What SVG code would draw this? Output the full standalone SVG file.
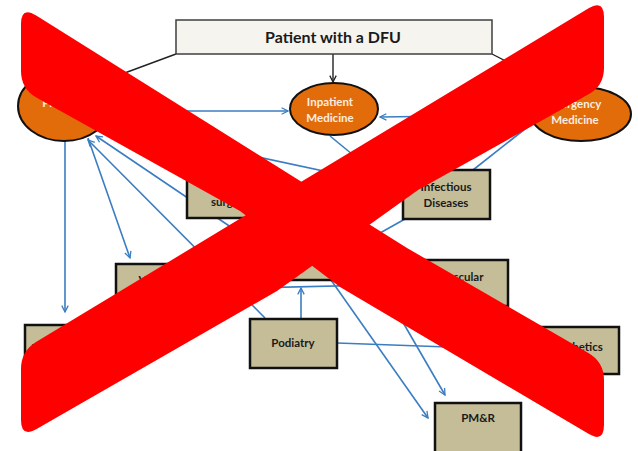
<svg xmlns="http://www.w3.org/2000/svg" width="638" height="451" viewBox="0 0 638 451">
<style>
.ell{fill:#e26b0a;stroke:#111;stroke-width:2}
.box{fill:#c5bd98;stroke:#111;stroke-width:2.5}
.top{fill:#f5f4ef;stroke:#3f3f3f;stroke-width:1.5}
.t{font-family:Lato,"Liberation Sans",sans-serif;font-weight:bold;font-size:11.5px;fill:#1a1a1a;text-anchor:middle}
.w{fill:#fbeee0}
.big{font-size:16px}
.bl{fill:none;stroke:#3b7dc2;stroke-width:1.6}
.bk{fill:none;stroke:#222;stroke-width:1.4}
.x{fill:#ff0000}
</style>
<defs>
<marker id="ab" viewBox="0 0 10 10" refX="9" refY="5" markerWidth="8" markerHeight="8" orient="auto" markerUnits="userSpaceOnUse"><path d="M1,1 L9,5 L1,9" fill="none" stroke="#3b7dc2" stroke-width="1.6"/></marker>
<marker id="ak" viewBox="0 0 10 10" refX="9" refY="5" markerWidth="8" markerHeight="8" orient="auto" markerUnits="userSpaceOnUse"><path d="M1,1 L9,5 L1,9" fill="none" stroke="#222" stroke-width="1.6"/></marker>
</defs>
<rect width="638" height="451" fill="#fff"/>
<g id="connectors">
<path class="bk" d="M333,54 L333,82" marker-end="url(#ak)"/>
<path class="bk" d="M176,54 L95,84" marker-end="url(#ak)"/>
<path class="bk" d="M492,54 L560,89" marker-end="url(#ak)"/>
<path class="bl" d="M110,111 L288,111" marker-end="url(#ab)"/>
<path class="bl" d="M531,115 L380,117" marker-end="url(#ab)"/>
<path class="bl" d="M530,125 L473,170"/>
<path class="bl" d="M405,219 L364,242"/>
<path class="bl" d="M331,280 L428,418" marker-end="url(#ab)"/>
<path class="bl" d="M368,262 L445,395" marker-end="url(#ab)"/>
<path class="bl" d="M203,289 L421,284"/>
<path class="bl" d="M301,319 L301,288" marker-end="url(#ab)"/>
<path class="bl" d="M337,343 L532,350" marker-end="url(#ab)"/>
<path class="bl" d="M65,141 L65,312" marker-end="url(#ab)"/>
<path class="bl" d="M88,138 L130,258" marker-end="url(#ab)"/>
<path class="bl" d="M265,318 L88,140" marker-end="url(#ab)"/>
<path class="bl" d="M250,240 L96,136" marker-end="url(#ab)"/>
<path class="bl" d="M108,125 L403,188"/>
<path class="bl" d="M330,136 L403,196" marker-end="url(#ab)"/>
</g>
<g id="patient"><rect class="top" x="176" y="20" width="316" height="34"/><text class="t big" x="333" y="43">Patient with a DFU</text></g>
<g id="primary-care"><ellipse class="ell" cx="64" cy="106" rx="46" ry="35"/><text class="t w" x="64" y="92">Primary Care</text><text class="t w" x="64" y="107">Provider</text></g>
<g id="inpatient-medicine"><ellipse class="ell" cx="334" cy="109" rx="44" ry="26"/><text class="t w" x="330" y="106">Inpatient</text><text class="t w" x="330" y="122">Medicine</text></g>
<g id="emergency-medicine"><ellipse class="ell" cx="581" cy="114" rx="50" ry="27"/><text class="t w" x="573" y="108">Emergency</text><text class="t w" x="575" y="124">Medicine</text></g>
<g id="plastic-surgery"><rect class="box" x="187" y="170" width="87" height="48"/><text class="t" x="230" y="190">Plastic</text><text class="t" x="230" y="206">surgery</text></g>
<g id="infectious-diseases"><rect class="box" x="403" y="170" width="87" height="49"/><text class="t" x="446" y="191">Infectious</text><text class="t" x="446" y="207">Diseases</text></g>
<g id="vascular-medicine"><rect class="box" x="116" y="264" width="87" height="47"/><text class="t" x="160" y="284">Vascular</text><text class="t" x="160" y="300">Medicine</text></g>
<g id="wound-care"><rect class="box" x="250" y="240" width="118" height="40"/><text class="t" x="309" y="264">Wound Care</text></g>
<g id="vascular-lab"><rect class="box" x="421" y="260" width="87" height="46"/><text class="t" x="462" y="281">Vascular</text><text class="t" x="462" y="297">Lab</text></g>
<g id="endocrinology"><rect class="box" x="25" y="325" width="87" height="47"/><text class="t" x="68" y="352">Endocrinology</text></g>
<g id="podiatry"><rect class="box" x="250" y="319" width="87" height="49"/><text class="t" x="293" y="347">Podiatry</text></g>
<g id="prosthetics"><rect class="box" x="532" y="327" width="87" height="47"/><text class="t" x="574" y="351">Prosthetics</text></g>
<g id="pmr"><rect class="box" x="435" y="403" width="86" height="60"/><text class="t" x="478" y="422">PM&amp;R</text></g>
<g id="cross">
<path class="x" d="M21,24 Q21,6 36.2,15.6 L407,248 L588.4,353 Q604,362 604,380 L604,425 Q604,443 588.5,433.8 L340,287 L240,211 L36.7,97.8 Q21,89 21,71 Z"/>
<path class="x" d="M21,369 Q21,351 36.4,341.7 L588.6,8.3 Q604,-1 604,17 L604,68 Q604,86 588.1,94.6 L418,190 L277,291 L36.6,429 Q21,438 21,420 Z"/>
</g>
</svg>
